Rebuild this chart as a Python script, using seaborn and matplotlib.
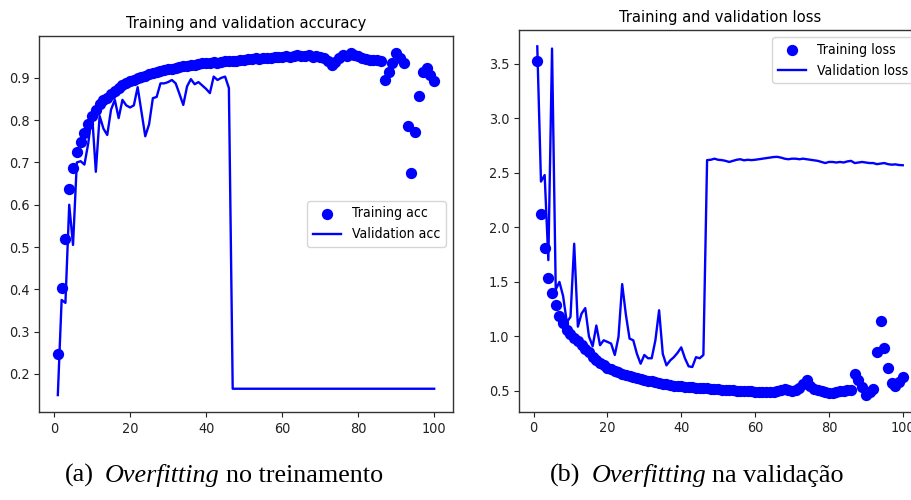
import matplotlib
matplotlib.use("Agg")
import matplotlib.pyplot as plt
import seaborn as sns
from matplotlib import font_manager as fm

# ---------------- data ----------------
epochs = list(range(1, 101))

train_acc = [0.248, 0.402, 0.520, 0.638, 0.686, 0.725, 0.748, 0.770, 0.790, 0.810,
             0.825, 0.838, 0.848, 0.853, 0.862, 0.868, 0.876, 0.884, 0.888, 0.892,
             0.896, 0.899, 0.902, 0.905, 0.908, 0.911, 0.913, 0.916, 0.918, 0.920,
             0.922, 0.924, 0.925, 0.927, 0.929, 0.930, 0.931, 0.933, 0.935, 0.934,
             0.935, 0.937, 0.936, 0.938, 0.939, 0.940, 0.940, 0.941, 0.943, 0.942,
             0.944, 0.945, 0.946, 0.945, 0.947, 0.948, 0.948, 0.950, 0.949, 0.950,
             0.951, 0.950, 0.952, 0.953, 0.951, 0.952, 0.953, 0.950, 0.952, 0.950,
             0.947, 0.940, 0.930, 0.937, 0.948, 0.953, 0.952, 0.958, 0.955, 0.952,
             0.948, 0.945, 0.943, 0.942, 0.942, 0.941, 0.895, 0.915, 0.935, 0.958,
             0.948, 0.936, 0.786, 0.676, 0.773, 0.856, 0.915, 0.924, 0.907, 0.892]

val_acc = [0.150, 0.375, 0.368, 0.600, 0.505, 0.700, 0.703, 0.695, 0.745, 0.815,
           0.678, 0.810, 0.780, 0.765, 0.825, 0.848, 0.805, 0.848, 0.835, 0.830,
           0.835, 0.878, 0.820, 0.762, 0.790, 0.852, 0.855, 0.887, 0.887, 0.890,
           0.895, 0.887, 0.862, 0.836, 0.880, 0.897, 0.885, 0.890, 0.882, 0.874,
           0.864, 0.903, 0.895, 0.900, 0.903, 0.876, 0.165, 0.165, 0.165, 0.165,
           0.165, 0.165, 0.165, 0.165, 0.165, 0.165, 0.165, 0.165, 0.165, 0.165,
           0.165, 0.165, 0.165, 0.165, 0.165, 0.165, 0.165, 0.165, 0.165, 0.165,
           0.165, 0.165, 0.165, 0.165, 0.165, 0.165, 0.165, 0.165, 0.165, 0.165,
           0.165, 0.165, 0.165, 0.165, 0.165, 0.165, 0.165, 0.165, 0.165, 0.165,
           0.165, 0.165, 0.165, 0.165, 0.165, 0.165, 0.165, 0.165, 0.165, 0.165]

train_loss = [3.53, 2.12, 1.81, 1.54, 1.40, 1.29, 1.19, 1.12, 1.06, 1.02,
              0.985, 0.955, 0.920, 0.885, 0.855, 0.810, 0.785, 0.760, 0.735, 0.715,
              0.700, 0.685, 0.670, 0.655, 0.645, 0.635, 0.625, 0.617, 0.610, 0.602,
              0.595, 0.590, 0.582, 0.575, 0.568, 0.562, 0.556, 0.550, 0.546, 0.543,
              0.540, 0.536, 0.532, 0.530, 0.528, 0.526, 0.524, 0.522, 0.520, 0.518,
              0.512, 0.510, 0.508, 0.505, 0.503, 0.500, 0.500, 0.498, 0.497, 0.495,
              0.495, 0.493, 0.495, 0.492, 0.495, 0.500, 0.510, 0.520, 0.505, 0.500,
              0.510, 0.530, 0.560, 0.600, 0.550, 0.520, 0.510, 0.500, 0.490, 0.480,
              0.480, 0.490, 0.500, 0.500, 0.505, 0.510, 0.660, 0.600, 0.540, 0.460,
              0.490, 0.520, 0.860, 1.140, 0.890, 0.710, 0.570, 0.550, 0.580, 0.630]

val_loss = [3.66, 2.42, 2.48, 1.70, 3.64, 1.43, 1.50, 1.37, 1.13, 1.18,
            1.85, 1.09, 1.21, 1.26, 1.00, 0.91, 1.10, 0.92, 0.965, 0.95,
            0.935, 0.83, 0.995, 1.48, 1.20, 0.98, 0.965, 0.84, 0.75, 0.83,
            0.80, 0.80, 0.965, 1.24, 0.84, 0.735, 0.78, 0.81, 0.85, 0.90,
            0.80, 0.726, 0.72, 0.81, 0.80, 0.83, 2.617, 2.62, 2.63, 2.62,
            2.617, 2.61, 2.60, 2.61, 2.62, 2.625, 2.615, 2.62, 2.617, 2.62,
            2.625, 2.63, 2.635, 2.64, 2.645, 2.647, 2.64, 2.63, 2.625, 2.63,
            2.63, 2.625, 2.63, 2.625, 2.62, 2.615, 2.61, 2.60, 2.59, 2.60,
            2.60, 2.595, 2.60, 2.595, 2.605, 2.61, 2.59, 2.595, 2.60, 2.595,
            2.59, 2.59, 2.58, 2.585, 2.59, 2.58, 2.575, 2.578, 2.572, 2.57]

x_ticks = [0, 20, 40, 60, 80, 100]
acc_yticks = [0.2, 0.3, 0.4, 0.5, 0.6, 0.7, 0.8, 0.9]
loss_yticks = [0.5, 1.0, 1.5, 2.0, 2.5, 3.0, 3.5]

title_acc = "Training and validation accuracy"
title_loss = "Training and validation loss"
labels_acc = ["Training acc", "Validation acc"]
labels_loss = ["Training loss", "Validation loss"]
cap_a = ["(a)", "Overfitting", "no treinamento"]
cap_b = ["(b)", "Overfitting", "na validação"]

# ---------------- fonts ----------------
names = {f.name for f in fm.fontManager.ttflist}
stretch = "normal"
if "Liberation Sans Narrow" in names:
    SANS, k = "Liberation Sans Narrow", 1.0
elif any(f.name == "DejaVu Sans" and f.stretch in ("condensed", "semi-condensed")
         for f in fm.fontManager.ttflist):
    SANS, k, stretch = "DejaVu Sans", 0.80, "condensed"
else:
    SANS, k = "Liberation Sans", 0.82

plt.rcParams["font.family"] = [SANS, "DejaVu Sans"]
plt.rcParams["font.stretch"] = stretch
SERIF = "Liberation Serif"

TITLE_FS = 14.8 * k
TICK_FS = 13.0 * k
LEG_FS = 12.6 * k
CAP_FS = 18.8

BLUE = "#0000ff"

fig = plt.figure(figsize=(9.12, 5.0), dpi=100)
fig.patch.set_facecolor("white")

ax1 = fig.add_axes([39 / 912, 1 - 412 / 500, (453 - 39) / 912, (412 - 36) / 500])
ax2 = fig.add_axes([519 / 912, 1 - 411.7 / 500, (921 - 519) / 912, (411.7 - 30) / 500])


def draw(ax, tr, va, labs, title, yticks, legloc):
    sns.scatterplot(x=epochs, y=tr, ax=ax, color=BLUE, s=66, linewidth=0,
                    label=labs[0], zorder=3)
    sns.lineplot(x=epochs, y=va, ax=ax, color=BLUE, linewidth=1.7,
                 label=labs[1], zorder=2)
    ax.set_xticks(x_ticks)
    ax.set_yticks(yticks)
    ax.set_xlabel("")
    ax.set_ylabel("")
    ax.set_title(title, fontsize=TITLE_FS, pad=6)
    ax.tick_params(labelsize=TICK_FS, colors="#222222", length=3.5, width=0.8)
    for sp in ax.spines.values():
        sp.set_color("#333333")
        sp.set_linewidth(1.0)
    ax.legend(loc=legloc, fontsize=LEG_FS, frameon=True, framealpha=0.8,
              edgecolor="#cccccc", handlelength=2.0)


draw(ax1, train_acc, val_acc, labels_acc, title_acc, acc_yticks, "center right")
draw(ax2, train_loss, val_loss, labels_loss, title_loss, loss_yticks, "upper right")
ax1.set_ylim(0.11, 0.999)
ax2.set_ylim(0.31, 3.81)
ax1.set_xlim(-3.95, 104.95)
ax2.set_xlim(-3.95, 104.95)


def caption(x_px, parts):
    t1 = fig.text(x_px / 912, 1 - 482 / 500, parts[0], family=SERIF,
                  fontsize=CAP_FS, va="baseline", ha="left")
    t2 = fig.text(0, 0, "", fontsize=1)
    t2.remove()
    t2 = plt.annotate(parts[1], xy=(1, 0), xycoords=t1, xytext=(8, 0),
                      textcoords="offset points", family=SERIF, style="italic",
                      fontsize=CAP_FS, va="bottom", ha="left",
                      annotation_clip=False)
    plt.annotate(parts[2], xy=(1, 0), xycoords=t2, xytext=(4.5, 0),
                 textcoords="offset points", family=SERIF,
                 fontsize=CAP_FS, va="bottom", ha="left",
                 annotation_clip=False)


caption(65, cap_a)
caption(550, cap_b)

fig.savefig("out.png", dpi=100, facecolor="white")
